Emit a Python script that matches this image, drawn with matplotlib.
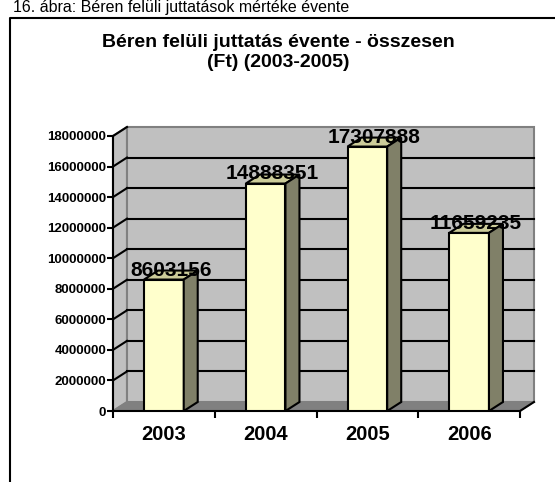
import numpy as np
import matplotlib
matplotlib.use("Agg")
import matplotlib.pyplot as plt
from matplotlib.patches import Polygon

# ============================
#       DATA
# ============================

years = ["2003", "2004", "2005", "2006"]
values = [8603156, 14888351, 17307888, 11659235]
y_ticks = [0, 2000000, 4000000, 6000000, 8000000, 10000000,
           12000000, 14000000, 16000000, 18000000]

title_lines = ["Béren felüli juttatás évente - összesen", "(Ft) (2003-2005)"]
caption = "16. ábra: Béren felüli juttatások mértéke évente"

# ============================
#       LAYOUT (pixels)
# ============================

W, H = 555, 482
plt.rcParams['font.family'] = ['Liberation Sans', 'DejaVu Sans']

fig = plt.figure(figsize=(W / 100, H / 100), dpi=100)

def px(x, y):
    # pixel coords (top-left origin) -> figure fraction
    return x / W, 1 - y / H

ax_l, ax_r, ax_top, ax_bot = 113, 520, 136, 411
ax = fig.add_axes([ax_l / W, 1 - ax_bot / H, (ax_r - ax_l) / W, (ax_bot - ax_top) / H])
ax.set_xlim(0, len(years))
ax.set_ylim(0, 18000000)
ax.patch.set_visible(False)

# depth offsets in data units (14 px right, 9 px up)
dx = 14 / ((ax_r - ax_l) / len(years))
dy = 9 * 18000000 / (ax_bot - ax_top)
ymax = y_ticks[-1]
n = len(years)

# walls
side = Polygon([(0, 0), (0, ymax), (dx, ymax + dy), (dx, dy)], closed=True,
               facecolor='#c0c0c0', edgecolor='#808080', lw=1.5, clip_on=False, zorder=1)
back = Polygon([(dx, dy), (dx, ymax + dy), (n + dx, ymax + dy), (n + dx, dy)], closed=True,
               facecolor='#c0c0c0', edgecolor='#808080', lw=1.5, clip_on=False, zorder=1)
floor = Polygon([(0, 0), (n, 0), (n + dx, dy), (dx, dy)], closed=True,
                facecolor='#808080', edgecolor='#808080', lw=1, clip_on=False, zorder=1.5)
ax.add_patch(side)
ax.add_patch(back)

# gridlines on back wall + side wall
for t in y_ticks[1:-1]:
    ax.plot([dx, n + dx], [t + dy, t + dy], color='black', lw=1.5, clip_on=False, zorder=1.2)
for t in y_ticks[1:]:
    ax.plot([0, dx], [t, t + dy], color='black', lw=1.5, clip_on=False, zorder=1.2)
ax.add_patch(floor)
ax.plot([n, n + dx], [0, dy], color='black', lw=1.5, clip_on=False, zorder=1.6)

# bars
bw = 0.39
centers = np.arange(n) + 0.5
ax.bar(centers, values, width=bw, color='#ffffcc', edgecolor='black', lw=1.5, zorder=3)
for c, v in zip(centers, values):
    x0, x1 = c - bw / 2, c + bw / 2
    top = Polygon([(x0, v), (x1, v), (x1 + dx, v + dy), (x0 + dx, v + dy)], closed=True,
                  facecolor='#cccc99', edgecolor='black', lw=1.5, clip_on=False, zorder=3)
    sd = Polygon([(x1, 0), (x1, v), (x1 + dx, v + dy), (x1 + dx, dy)], closed=True,
                 facecolor='#808068', edgecolor='black', lw=1.5, clip_on=False, zorder=3)
    ax.add_patch(top)
    ax.add_patch(sd)
    ax.text(c + dx / 2, v + dy * 0.45, str(v), ha='center', va='baseline',
            fontsize=15, fontweight='bold', zorder=4, clip_on=False)

# axes
for s in ['top', 'right']:
    ax.spines[s].set_visible(False)
ax.spines['left'].set_linewidth(1.5)
ax.spines['bottom'].set_linewidth(1.5)
ax.spines['left'].set_zorder(2)
ax.spines['bottom'].set_zorder(2)

ax.set_yticks(y_ticks)
ax.set_yticklabels([str(t) for t in y_ticks], fontsize=9.5, fontweight='bold')
ax.tick_params(axis='y', length=4, width=1.5, pad=1)

ax.set_xticks(np.arange(n + 1))
ax.set_xticklabels([])
ax.set_xticks(centers, minor=True)
ax.set_xticklabels(years, minor=True, fontsize=14.5, fontweight='bold')
ax.tick_params(axis='x', which='major', length=5, width=1.5, direction='out')
ax.tick_params(axis='x', which='minor', length=0, pad=10)

# title and caption
fig.text(*px(278, 47), title_lines[0], ha='center', va='baseline', fontsize=14,
         fontweight='bold')
fig.text(*px(278, 67), title_lines[1], ha='center', va='baseline', fontsize=14,
         fontweight='bold')
fig.text(*px(13, 12), caption, ha='left', va='baseline', fontsize=11.5)

# chart frame (open at right and bottom)
fig.add_artist(plt.Line2D([10 / W, 10 / W, 1.0], [0.0, 1 - 18 / H, 1 - 18 / H],
                          color='black', lw=1.5, transform=fig.transFigure))

fig.savefig("out.png", dpi=100)
